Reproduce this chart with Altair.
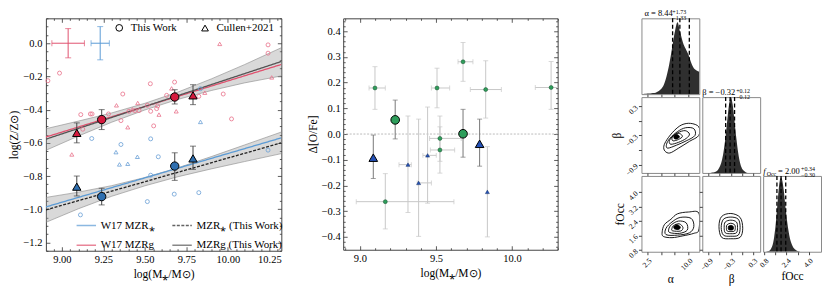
import altair as alt
import pandas as pd

FONT = "Liberation Serif"

# ---------------- Left panel: mass-metallicity relation ----------------
red_circ_x = [8.916, 8.986, 9.114, 9.172, 9.182, 9.281, 9.126, 9.356, 9.367, 9.404, 9.44, 9.465, 9.515,
              9.533, 9.535, 9.553, 9.571, 9.577, 9.631, 9.679, 9.825, 9.972, 10.022, 10.242, 10.242]
red_circ_y = [-0.226, -0.18, -0.43, -0.426, -0.426, -0.426, -0.518, -0.466, -0.306, -0.41, -0.406, -0.406, -0.374,
              -0.244, -0.41, -0.498, -0.394, -0.378, -0.314, -0.234, -0.32, -0.306, -0.456, -0.01, -0.06]
red_tri_x = [9.329, 9.397, 9.425, 9.457, 9.585, 9.661, 9.689, 9.861, 9.951, 10.264, 9.06]
red_tri_y = [-0.374, -0.506, -0.398, -0.36, -0.43, -0.272, -0.41, -0.298, -0.004, -0.206, -0.67]
blue_circ_x = [9.18, 9.356, 9.535, 9.835, 9.581, 9.535, 9.677, 9.515, 9.825, 9.112, 10.242]
blue_circ_y = [-0.574, -0.61, -0.576, -0.274, -0.684, -0.795, -0.909, -0.954, -0.9, -1.034, -0.644]
blue_tri_x = [9.835, 9.326, 9.347, 9.397, 9.455]
blue_tri_y = [-0.474, -0.656, -0.73, -0.726, -0.684]

big_x = [9.24, 9.68, 9.09, 9.79, 9.24, 9.68, 9.09, 9.79]
big_y = [-0.46, -0.324, -0.54, -0.314, -0.924, -0.74, -0.864, -0.694]
big_lo = [-0.52, -0.366, -0.60, -0.37, -0.974, -0.826, -0.92, -0.76]
big_hi = [-0.40, -0.28, -0.48, -0.25, -0.874, -0.66, -0.80, -0.62]
big_set = ["This Work", "This Work", "Cullen+2021", "Cullen+2021"] * 2
big_tone = ["red"] * 4 + ["blue"] * 4

cross_cx = [9.038, 9.231]
cross_cy = [0.0, 0.0]
cross_dx = [0.098, 0.055]
cross_dy = [0.088, 0.10]
cross_tone = ["red", "blue"]

line_x = [8.904, 10.322]
w17_star = [-0.986, -0.57]
w17_gas = [-0.565, -0.128]
tw_star = [-1.004, -0.60]
tw_gas = [-0.578, -0.11]

band_x = [8.904, 9.1, 9.3, 9.5, 9.7, 9.9, 10.1, 10.322]
band_gas_lo = [-0.645, -0.559, -0.476, -0.402, -0.338, -0.285, -0.239, -0.197]
band_gas_hi = [-0.515, -0.469, -0.420, -0.362, -0.294, -0.215, -0.129, -0.027]
band_star_lo = [-1.079, -0.997, -0.922, -0.859, -0.804, -0.757, -0.713, -0.665]
band_star_hi = [-0.929, -0.897, -0.858, -0.809, -0.750, -0.683, -0.613, -0.535]

# ---------------- Middle panel: Delta [O/Fe] ----------------
g_x = [9.099, 9.507, 9.678, 9.827, 10.257, 9.526, 9.526, 9.167]
g_y = [0.179, 0.179, 0.281, 0.173, 0.181, -0.017, -0.062, -0.263]
g_xlo = [9.06, 9.47, 9.645, 9.726, 10.153, 9.458, 9.463, 8.976]
g_xhi = [9.167, 9.59, 9.743, 9.93, 10.37, 9.666, 9.623, 9.618]
g_ylo = [0.096, 0.102, 0.205, 0.062, 0.096, -0.106, -0.152, -0.369]
g_yhi = [0.262, 0.256, 0.356, 0.285, 0.282, 0.07, 0.028, -0.154]
b_x = [9.316, 9.445, 9.386, 9.838]
b_y = [-0.119, -0.083, -0.19, -0.225]
b_xlo = [9.257, 9.414, 9.377, 9.838]
b_xhi = [9.338, 9.502, 9.47, 9.838]
b_ylo = [-0.305, -0.269, -0.398, -0.40]
b_yhi = [0.07, 0.105, 0.058, -0.049]
gb_x = [9.232, 9.678]
gb_y = [0.055, 0.001]
gb_lo = [-0.019, -0.09]
gb_hi = [0.132, 0.096]
bb_x = [9.088, 9.787]
bb_y = [-0.092, -0.038]
bb_lo = [-0.173, -0.125]
bb_hi = [-0.004, 0.058]

# ---------------- Corner plot ----------------
alpha_bins = [1.5, 2.0, 2.5, 3.0, 3.5, 4.0, 4.5, 5.0, 5.5, 6.0, 6.5, 7.0, 7.5, 8.0, 8.5, 9.0, 9.5, 10.0,
              10.5, 11.0, 11.5, 12.0]
alpha_hist = [0, 0.005, 0.01, 0.01, 0.015, 0.02, 0.04, 0.07, 0.13, 0.25, 0.42, 0.64, 0.86, 1.0, 0.86, 0.72,
              0.63, 0.55, 0.44, 0.36, 0.33, 0.31]
beta_bins = [-0.85, -0.8, -0.75, -0.7, -0.65, -0.6, -0.55, -0.5, -0.45, -0.4, -0.35, -0.3, -0.25, -0.2, -0.15,
             -0.1, -0.05, 0.0, 0.05, 0.1, 0.15]
beta_hist = [0, 0.005, 0.01, 0.02, 0.04, 0.08, 0.15, 0.27, 0.45, 0.68, 0.9, 1.0, 0.9, 0.68, 0.45, 0.26, 0.13,
             0.06, 0.03, 0.01, 0.0]
f_bins = [0.9, 1.0, 1.1, 1.2, 1.3, 1.4, 1.5, 1.6, 1.7, 1.8, 1.9, 2.0, 2.1, 2.2, 2.3, 2.4, 2.5, 2.6, 2.7, 2.8,
          2.9, 3.0, 3.1, 3.2, 3.3, 3.4, 3.5]
f_hist = [0, 0.005, 0.01, 0.02, 0.05, 0.1, 0.2, 0.35, 0.55, 0.78, 0.95, 1.0, 0.95, 0.82, 0.64, 0.47, 0.33,
          0.22, 0.14, 0.09, 0.055, 0.035, 0.02, 0.01, 0.005, 0.0, 0.0]
alpha_q = [7.11, 8.44, 10.17]
beta_q = [-0.44, -0.32, -0.20]
f_q = [1.70, 2.00, 2.34]

ab_levels = [
    [(5.7, -0.62), (6.6, -0.66), (8.2, -0.56), (10.2, -0.42), (11.9, -0.3), (11.9, -0.12), (10.4, -0.05),
     (8.8, -0.08), (7.4, -0.2), (6.1, -0.38), (5.5, -0.52)],
    [(6.2, -0.56), (7.8, -0.5), (9.6, -0.41), (11.2, -0.3), (11.0, -0.16), (9.5, -0.14), (8.0, -0.22),
     (6.6, -0.36), (6.0, -0.48)],
    [(6.8, -0.48), (8.2, -0.44), (9.6, -0.36), (10.2, -0.27), (9.4, -0.2), (8.1, -0.24), (7.0, -0.33),
     (6.5, -0.42)],
    [(7.2, -0.41), (8.2, -0.38), (8.9, -0.32), (8.4, -0.26), (7.5, -0.28), (7.0, -0.35)],
]
ab_core = [(7.5, -0.37), (8.1, -0.36), (8.35, -0.32), (7.9, -0.28), (7.35, -0.31)]
af_levels = [
    [(5.4, 1.55), (7.0, 1.48), (9.0, 1.58), (11.0, 1.72), (11.9, 1.9), (11.9, 2.85), (10.0, 2.9), (8.0, 2.8),
     (6.8, 2.5), (5.6, 2.2), (5.2, 1.8)],
    [(5.9, 1.65), (8.0, 1.62), (10.2, 1.75), (11.0, 2.1), (10.5, 2.55), (8.5, 2.6), (7.0, 2.35), (5.9, 2.0)],
    [(6.6, 1.76), (8.4, 1.72), (9.8, 1.9), (9.6, 2.3), (8.2, 2.4), (6.9, 2.2), (6.4, 1.95)],
    [(7.1, 1.86), (8.6, 1.85), (9.0, 2.05), (8.3, 2.25), (7.3, 2.15), (7.0, 2.0)],
]
af_core = [(7.5, 1.96), (8.3, 1.95), (8.5, 2.08), (7.9, 2.2), (7.35, 2.1)]
bf_levels = [
    [(-0.55, 1.5), (-0.3, 1.42), (-0.05, 1.5), (0.02, 2.0), (-0.05, 2.6), (-0.3, 2.82), (-0.55, 2.65),
     (-0.62, 2.1)],
    [(-0.5, 1.62), (-0.3, 1.56), (-0.1, 1.62), (-0.05, 2.05), (-0.1, 2.5), (-0.3, 2.62), (-0.5, 2.5),
     (-0.56, 2.05)],
    [(-0.45, 1.75), (-0.3, 1.7), (-0.15, 1.75), (-0.12, 2.05), (-0.15, 2.35), (-0.3, 2.45), (-0.45, 2.35),
     (-0.48, 2.05)],
    [(-0.4, 1.85), (-0.3, 1.82), (-0.2, 1.85), (-0.18, 2.05), (-0.2, 2.2), (-0.3, 2.28), (-0.4, 2.2),
     (-0.42, 2.05)],
]
bf_core = [(-0.36, 1.93), (-0.3, 1.9), (-0.24, 1.93), (-0.23, 2.04), (-0.25, 2.13), (-0.3, 2.16),
           (-0.36, 2.12), (-0.37, 2.03)]

# ---------------- styling ----------------
RED_S, RED_L, RED_B = "#e8718a", "#e0526f", "#d51a3e"
BLUE_S, BLUE_L, BLUE_B = "#6a9fd6", "#5b9bd5", "#2f6fb0"
GREEN, BLUE_M = "#2e9e5b", "#2451b8"
TONE_B = {"red": RED_B, "blue": BLUE_B}
TONE_L = {"red": RED_L, "blue": BLUE_L}

LAB = 10.5
TIT = 11.5


def tick_vals(lo, hi, step):
    n = int(round((hi - lo) / step))
    return [round(lo + k * step, 4) for k in range(n + 1)]


def major_test(step):
    return f"abs(datum.value / {step} - round(datum.value / {step})) < 0.001"


def frame_ticks(xscale, yscale, xvals, yvals, xstep, ystep, W, H, px, py):
    """Invisible layers carrying inward major/minor ticks on all four sides."""
    d = pd.DataFrame({"x": [px], "y": [py]})

    def ax(orient, offset, vals, step):
        return alt.Axis(orient=orient, offset=offset, values=vals, labels=False, domain=False, title=None,
                        grid=False, tickColor="#333", tickWidth=0.8,
                        tickSize={"condition": {"test": major_test(step), "value": 4}, "value": 2})

    b = alt.Chart(d).mark_point(opacity=0).encode(
        x=alt.X("x:Q", scale=xscale, axis=ax("top", -H, xvals, xstep)),
        y=alt.Y("y:Q", scale=yscale, axis=ax("right", -W, yvals, ystep)))
    c = alt.Chart(d).mark_point(opacity=0).encode(
        x=alt.X("x:Q", scale=xscale, axis=ax("bottom", -H, xvals, xstep)),
        y=alt.Y("y:Q", scale=yscale, axis=ax("left", -W, yvals, ystep)))
    return b, c


# ======================= LEFT PANEL =======================
LW, LH = 236, 233
XL = alt.Scale(domain=[8.904, 10.322], nice=False, zero=False)
YL = alt.Scale(domain=[-1.25, 0.15], nice=False, zero=False)
AXL_X = alt.Axis(values=[9.0, 9.25, 9.5, 9.75, 10.0, 10.25], format=".2f", title="log(M⁎/M⊙)",
                 labelFontSize=LAB, titleFontSize=TIT, ticks=False, labelPadding=4, domain=False,
                 titlePadding=3)
AXL_Y = alt.Axis(values=[-1.2, -1.0, -0.8, -0.6, -0.4, -0.2, 0.0], format=".1f", title="log(Z/Z⊙)",
                 labelFontSize=LAB, titleFontSize=TIT, ticks=False, labelPadding=4, domain=False,
                 titlePadding=3)


def lx(f, axis=None):
    return alt.X(f, type="quantitative", scale=XL, axis=axis)


def ly(f, axis=None):
    return alt.Y(f, type="quantitative", scale=YL, axis=axis)


SHAPE = alt.Scale(domain=["This Work", "Cullen+2021"], range=["circle", "triangle-up"])
shape_legend = alt.Legend(orient="none", legendX=68, legendY=4, direction="horizontal", title=None,
                          symbolFillColor="white", symbolStrokeColor="black", symbolStrokeWidth=1,
                          symbolSize=45, labelFont=FONT, labelFontSize=11, columnPadding=22,
                          labelOffset=6)

small_df = pd.concat([
    pd.DataFrame({"x": red_circ_x, "y": red_circ_y, "c": RED_S, "s": "This Work"}),
    pd.DataFrame({"x": red_tri_x, "y": red_tri_y, "c": RED_S, "s": "Cullen+2021"}),
    pd.DataFrame({"x": blue_circ_x, "y": blue_circ_y, "c": BLUE_S, "s": "This Work"}),
    pd.DataFrame({"x": blue_tri_x, "y": blue_tri_y, "c": BLUE_S, "s": "Cullen+2021"}),
])
big_df = pd.DataFrame({"x": big_x, "y": big_y, "lo": big_lo, "hi": big_hi, "s": big_set,
                       "f": [TONE_B[t] for t in big_tone]})
cross_df = pd.DataFrame({"cx": cross_cx, "cy": cross_cy,
                         "xlo": [c - d for c, d in zip(cross_cx, cross_dx)],
                         "xhi": [c + d for c, d in zip(cross_cx, cross_dx)],
                         "ylo": [c - d for c, d in zip(cross_cy, cross_dy)],
                         "yhi": [c + d for c, d in zip(cross_cy, cross_dy)],
                         "c": [TONE_L[t] for t in cross_tone]})

SER = ["W17 MZR⁎", "W17 MZRg", "MZR⁎ (This Work)", "MZRg (This Work)"]
lines_df = pd.concat([
    pd.DataFrame({"x": line_x, "y": w17_star, "series": SER[0]}),
    pd.DataFrame({"x": line_x, "y": w17_gas, "series": SER[1]}),
    pd.DataFrame({"x": line_x, "y": tw_star, "series": SER[2]}),
    pd.DataFrame({"x": line_x, "y": tw_gas, "series": SER[3]}),
])
line_legend = alt.Legend(orient="none", legendX=30, legendY=197, columns=2, title=None,
                         symbolType="stroke", symbolStrokeWidth=1.4, symbolSize=380,
                         labelFont=FONT, labelFontSize=11, columnPadding=14, rowPadding=4)
bands_df = pd.concat([
    pd.DataFrame({"x": band_x, "lo": band_gas_lo, "hi": band_gas_hi, "g": "gas"}),
    pd.DataFrame({"x": band_x, "lo": band_star_lo, "hi": band_star_hi, "g": "star"}),
])

bands = alt.Chart(bands_df).mark_area(color="#9a9a9a", opacity=0.38, clip=True).encode(
    x=lx("x", AXL_X), y=ly("lo", AXL_Y), y2="hi", detail="g:N")
band_edges = alt.Chart(bands_df).transform_fold(["lo", "hi"], as_=["edge", "v"]).mark_line(
    color="#888", strokeWidth=0.6, clip=True).encode(x=lx("x"), y=ly("v:Q"), detail=["g:N", "edge:N"])
lines = alt.Chart(lines_df).mark_line(strokeWidth=1.3, clip=True).encode(
    x=lx("x"), y=ly("y"),
    color=alt.Color("series:N", scale=alt.Scale(domain=SER, range=[BLUE_L, RED_L, "#222", "#555"]),
                    legend=line_legend, sort=SER),
    strokeDash=alt.StrokeDash("series:N", scale=alt.Scale(domain=SER, range=[[1, 0], [1, 0], [3, 1.5], [1, 0]]),
                              legend=line_legend, sort=SER))
smalls = alt.Chart(small_df).mark_point(filled=False, size=16, strokeWidth=0.8, opacity=1).encode(
    x=lx("x"), y=ly("y"), shape=alt.Shape("s:N", scale=SHAPE, legend=shape_legend),
    stroke=alt.Stroke("c:N", scale=None))
cr_h = alt.Chart(cross_df).mark_rule(strokeWidth=1).encode(x=lx("xlo"), x2="xhi", y=ly("cy"),
                                                          color=alt.Color("c:N", scale=None))
cr_v = alt.Chart(cross_df).mark_rule(strokeWidth=1).encode(x=lx("cx"), y=ly("ylo"), y2="yhi",
                                                          color=alt.Color("c:N", scale=None))
cr_cap_l = alt.Chart(cross_df).mark_tick(orient="vertical", size=6, thickness=1).encode(
    x=lx("xlo"), y=ly("cy"), color=alt.Color("c:N", scale=None))
cr_cap_r = alt.Chart(cross_df).mark_tick(orient="vertical", size=6, thickness=1).encode(
    x=lx("xhi"), y=ly("cy"), color=alt.Color("c:N", scale=None))
cr_cap_b = alt.Chart(cross_df).mark_tick(orient="horizontal", size=6, thickness=1).encode(
    x=lx("cx"), y=ly("ylo"), color=alt.Color("c:N", scale=None))
cr_cap_t = alt.Chart(cross_df).mark_tick(orient="horizontal", size=6, thickness=1).encode(
    x=lx("cx"), y=ly("yhi"), color=alt.Color("c:N", scale=None))
big_err = alt.Chart(big_df).mark_rule(color="#444", strokeWidth=1).encode(x=lx("x"), y=ly("lo"), y2="hi")
big_cap_lo = alt.Chart(big_df).mark_tick(orient="horizontal", size=6, thickness=1, color="#444").encode(
    x=lx("x"), y=ly("lo"))
big_cap_hi = alt.Chart(big_df).mark_tick(orient="horizontal", size=6, thickness=1, color="#444").encode(
    x=lx("x"), y=ly("hi"))
bigs = alt.Chart(big_df).mark_point(filled=True, size=70, stroke="black", strokeWidth=1, opacity=1).encode(
    x=lx("x"), y=ly("y"), shape=alt.Shape("s:N", scale=SHAPE, legend=shape_legend),
    fill=alt.Fill("f:N", scale=None))
lt_b, lt_c = frame_ticks(XL, YL, tick_vals(8.95, 10.3, 0.05), tick_vals(-1.25, 0.15, 0.05), 0.25, 0.2,
                         LW, LH, 9.5, -0.5)

left = alt.layer(bands, lt_b, lt_c, band_edges, lines, smalls, cr_h, cr_v, cr_cap_l, cr_cap_r, cr_cap_b,
                 cr_cap_t, big_err, big_cap_lo, big_cap_hi, bigs).properties(width=LW, height=LH)

# ======================= MIDDLE PANEL =======================
MW, MH = 215, 232
XM = alt.Scale(domain=[8.89, 10.3], nice=False, zero=False)
YM = alt.Scale(domain=[-0.45, 0.45], nice=False, zero=False)
AXM_X = alt.Axis(values=[9.0, 9.5, 10.0], format=".1f", title="log(M⁎/M⊙)", labelFontSize=LAB,
                 titleFontSize=TIT, ticks=False, labelPadding=4, domain=False, titlePadding=3)
AXM_Y = alt.Axis(values=[-0.4, -0.3, -0.2, -0.1, 0.0, 0.1, 0.2, 0.3, 0.4], format=".1f", title="Δ[O/Fe]",
                 labelFontSize=LAB, titleFontSize=TIT, ticks=False, labelPadding=3, domain=False,
                 titlePadding=3)


def mx(f, axis=None):
    return alt.X(f, type="quantitative", scale=XM, axis=axis)


def my(f, axis=None):
    return alt.Y(f, type="quantitative", scale=YM, axis=axis)


sm_df = pd.concat([
    pd.DataFrame({"x": g_x, "y": g_y, "xlo": g_xlo, "xhi": g_xhi, "ylo": g_ylo, "yhi": g_yhi, "k": "g"}),
    pd.DataFrame({"x": b_x, "y": b_y, "xlo": b_xlo, "xhi": b_xhi, "ylo": b_ylo, "yhi": b_yhi, "k": "b"}),
])
gs_df = sm_df[sm_df.k == "g"]
bs_df = sm_df[sm_df.k == "b"]
bg_df = pd.DataFrame({"x": gb_x, "y": gb_y, "lo": gb_lo, "hi": gb_hi})
bt_df = pd.DataFrame({"x": bb_x, "y": bb_y, "lo": bb_lo, "hi": bb_hi})
zero_df = pd.DataFrame({"x": [9.5], "y": [0.0]})

ERR_LIGHT = "#c8c8c8"
zero = alt.Chart(zero_df).mark_rule(color="#aaa", strokeWidth=0.8, strokeDash=[2, 1.5]).encode(
    y=my("y", AXM_Y))
zero_x = alt.Chart(zero_df).mark_point(opacity=0).encode(x=mx("x", AXM_X), y=my("y"))
m_xe = alt.Chart(sm_df).mark_rule(color=ERR_LIGHT, strokeWidth=1, clip=True).encode(x=mx("xlo"), x2="xhi", y=my("y"))
m_ye = alt.Chart(sm_df).mark_rule(color=ERR_LIGHT, strokeWidth=1).encode(x=mx("x"), y=my("ylo"), y2="yhi")
m_cx1 = alt.Chart(sm_df).mark_tick(orient="vertical", size=5, thickness=1, color=ERR_LIGHT, clip=True).encode(
    x=mx("xlo"), y=my("y"))
m_cx2 = alt.Chart(sm_df).mark_tick(orient="vertical", size=5, thickness=1, color=ERR_LIGHT, clip=True).encode(
    x=mx("xhi"), y=my("y"))
m_cy1 = alt.Chart(sm_df).mark_tick(orient="horizontal", size=5, thickness=1, color=ERR_LIGHT).encode(
    x=mx("x"), y=my("ylo"))
m_cy2 = alt.Chart(sm_df).mark_tick(orient="horizontal", size=5, thickness=1, color=ERR_LIGHT).encode(
    x=mx("x"), y=my("yhi"))
m_gs = alt.Chart(gs_df).mark_point(filled=True, size=16, shape="circle", color=GREEN, stroke="#124a28",
                                   strokeWidth=0.5, opacity=1).encode(x=mx("x"), y=my("y"))
m_bs = alt.Chart(bs_df).mark_point(filled=True, size=16, shape="triangle-up", color=BLUE_M, stroke="#0d2a66",
                                   strokeWidth=0.5, opacity=1).encode(x=mx("x"), y=my("y"))
big_m = pd.concat([bg_df, bt_df])
m_be = alt.Chart(big_m).mark_rule(color="#777", strokeWidth=1).encode(x=mx("x"), y=my("lo"), y2="hi")
m_bc1 = alt.Chart(big_m).mark_tick(orient="horizontal", size=5, thickness=1, color="#777").encode(
    x=mx("x"), y=my("lo"))
m_bc2 = alt.Chart(big_m).mark_tick(orient="horizontal", size=5, thickness=1, color="#777").encode(
    x=mx("x"), y=my("hi"))
m_bg = alt.Chart(bg_df).mark_point(filled=True, size=75, shape="circle", color=GREEN, stroke="black",
                                   strokeWidth=1, opacity=1).encode(x=mx("x"), y=my("y"))
m_bt = alt.Chart(bt_df).mark_point(filled=True, size=75, shape="triangle-up", color=BLUE_M, stroke="black",
                                   strokeWidth=1, opacity=1).encode(x=mx("x"), y=my("y"))
mt_b, mt_c = frame_ticks(XM, YM, tick_vals(8.9, 10.3, 0.1), tick_vals(-0.44, 0.44, 0.02), 0.5, 0.1,
                         MW, MH, 9.5, 0.0)

middle = alt.layer(zero, zero_x, mt_b, mt_c, m_xe, m_ye, m_cx1, m_cx2, m_cy1, m_cy2, m_gs, m_bs, m_be,
                   m_bc1, m_bc2, m_bg, m_bt).properties(width=MW, height=MH)

# ======================= CORNER PLOT =======================
CW, CH = 58, 76
A_DOM, B_DOM, F_DOM = [1.4, 12.0], [-1.07, 0.49], [0.7, 4.9]
A_T, B_T, F_T = [2.5, 5.0, 7.5, 10.0], [-0.9, -0.6, -0.3, 0.0, 0.3], [0.8, 1.6, 2.4, 3.2, 4.0]
FRAME = alt.ViewBackground(stroke="#8a8a8a", strokeWidth=1)
EMPTY = alt.ViewBackground(strokeOpacity=0)


def cax(vals, labels, title, orient):
    kw = dict(values=vals, format=".1f", labels=labels, tickSize=3, labelFontSize=7.5,
              labelAngle=-45, titleFontSize=TIT, titlePadding=2, domain=False, orient=orient)
    kw["title"] = title if labels else None
    return alt.Axis(**kw)


def enc_x(f, dom, vals, labels, title):
    return alt.X(f, type="quantitative", scale=alt.Scale(domain=dom, nice=False, zero=False),
                 axis=cax(vals, labels, title, "bottom"))


def enc_y(f, dom, vals, labels, title):
    return alt.Y(f, type="quantitative", scale=alt.Scale(domain=dom, nice=False, zero=False),
                 axis=cax(vals, labels, title, "left"))


def contour_df(levels, core):
    rows = []
    for li, lev in enumerate(levels):
        for i, (a, b) in enumerate(lev):
            rows.append({"lvl": li, "i": i, "x": a, "y": b})
    core_rows = [{"lvl": 99, "i": i, "x": a, "y": b} for i, (a, b) in enumerate(core)]
    return pd.DataFrame(rows), pd.DataFrame(core_rows)


def contour_panel(levels, core, xdom, xt, xlab, xtitle, ydom, yt, ylab, ytitle):
    ldf, cdf = contour_df(levels, core)
    ex = enc_x("x", xdom, xt, xlab, xtitle)
    ey = enc_y("y", ydom, yt, ylab, ytitle)
    c1 = alt.Chart(ldf).mark_line(interpolate="cardinal-closed", color="black", strokeWidth=0.9,
                                  clip=True).encode(x=ex, y=ey, detail="lvl:N", order="i:Q")
    c2 = alt.Chart(cdf).mark_line(interpolate="cardinal-closed", color="black", fill="black",
                                  strokeWidth=0.9, clip=True).encode(x=ex, y=ey, order="i:Q")
    return alt.layer(c1, c2).properties(width=CW, height=CH, view=FRAME)


def txt(s, x, y, size, style="normal"):
    return alt.Chart(pd.DataFrame({"a": [0]})).mark_text(
        align="left", baseline="alphabetic", fontSize=size, font=FONT, fontStyle=style,
        color="#000000", fill="#000000", opacity=1).encode(
        x=alt.value(x), y=alt.value(y), text=alt.value(s))


def hist_panel(bins, vals, quant, xdom, xt, xlab, xtitle, ytop, titles):
    hdf = pd.DataFrame({"x": bins, "h": vals})
    qdf = pd.DataFrame({"q": quant})
    ex = enc_x("x", xdom, xt, xlab, xtitle)
    area = alt.Chart(hdf).mark_area(interpolate="monotone", color="#2f2f2f", opacity=1, clip=True).encode(
        x=ex, y=alt.Y("h:Q", scale=alt.Scale(domain=[0, ytop], nice=False, zero=True), axis=None))
    qs = alt.Chart(qdf).mark_rule(color="black", strokeDash=[4, 2.5], strokeWidth=1.3).encode(
        x=alt.X("q:Q", scale=alt.Scale(domain=xdom, nice=False, zero=False),
                axis=cax(xt, xlab, xtitle, "bottom")))
    return alt.layer(area, qs, *titles).properties(width=CW, height=CH, view=FRAME)


def empty():
    return alt.Chart(pd.DataFrame({"a": [0]})).mark_point(opacity=0).encode(
        x=alt.value(0), y=alt.value(0)).properties(width=CW, height=CH, view=EMPTY)


t_alpha = [txt("α = 8.44", 3, -2, 8.5), txt("+1.73", 31, -4.5, 6), txt("−1.33", 31, 1.5, 6)]
t_beta = [txt("β = −0.32", 0, -2, 8.5), txt("+0.12", 34, -4.5, 6), txt("−0.12", 34, 1.5, 6)]
t_f = [txt("f", 0, -2, 8.5, style="italic"), txt("Occ", 3.5, 0.5, 6), txt("= 2.00", 15, -2, 8.5),
       txt("+0.34", 38, -4.5, 6), txt("−0.30", 38, 1.5, 6)]

h_alpha = hist_panel(alpha_bins, alpha_hist, alpha_q, A_DOM, A_T, False, None, 1.055, t_alpha)
h_beta = hist_panel(beta_bins, beta_hist, beta_q, B_DOM, B_T, False, None, 1.0, t_beta)
h_f = hist_panel(f_bins, f_hist, f_q, F_DOM, F_T, True, "fOcc", 1.02, t_f)
c_ab = contour_panel(ab_levels, ab_core, A_DOM, A_T, False, None, B_DOM, B_T, True, "β")
c_af = contour_panel(af_levels, af_core, A_DOM, A_T, True, "α", F_DOM, F_T, True, "fOcc")
c_bf = contour_panel(bf_levels, bf_core, B_DOM, B_T, True, "β", F_DOM, F_T, False, None)

corner = alt.concat(h_alpha, empty(), empty(),
                    c_ab, h_beta, empty(),
                    c_af, c_bf, h_f,
                    columns=3, spacing=3, bounds="flush")

chart = alt.hconcat(alt.hconcat(left, middle, spacing=24), corner, spacing=52).properties(
    padding={"left": 0, "top": 0, "right": 0, "bottom": 0}
).configure_axis(
    labelFont=FONT, titleFont=FONT, labelColor="black", titleColor="black", domainColor="#444",
    tickColor="#444", grid=False, titleFontWeight="normal"
).configure_view(stroke="#444", strokeWidth=1).configure_legend(labelFont=FONT).configure_text(
    color="#000000")

chart.save("out.html", embed_options={"renderer": "svg", "actions": False})
